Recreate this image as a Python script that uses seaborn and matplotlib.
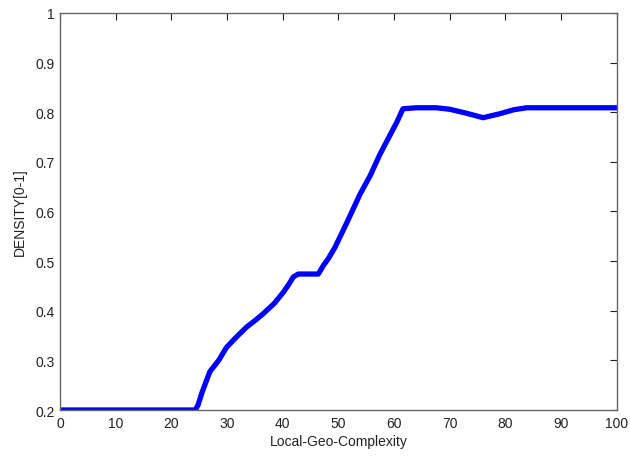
import numpy as np
import pandas as pd
import matplotlib
matplotlib.use('Agg')
import matplotlib.pyplot as plt
import seaborn as sns

# values
complexity = [0, 10, 20, 24.3, 24.8, 25.5, 26.9, 28.5, 29.9, 31.5, 33.5, 35.0, 36.5,
              38.5, 40.1, 41.2, 41.9, 42.8, 44.5, 46.4, 47.3, 48.2, 49.4, 51.5,
              53.9, 55.7, 57.5, 59.0, 60.5, 61.6, 64.0, 67.6, 70.0, 73.0, 76.0,
              79.0, 81.5, 83.8, 90.0, 100]
density = [0.2, 0.2, 0.2, 0.2, 0.21, 0.235, 0.277, 0.300, 0.326, 0.345, 0.367,
           0.380, 0.394, 0.415, 0.437, 0.455, 0.468, 0.474, 0.474, 0.474, 0.491,
           0.505, 0.528, 0.577, 0.635, 0.672, 0.716, 0.748, 0.780, 0.807, 0.809,
           0.809, 0.806, 0.798, 0.789, 0.797, 0.805, 0.809, 0.809, 0.809]

df = pd.DataFrame({'Local-Geo-Complexity': complexity, 'DENSITY[0-1]': density})

sns.set_style('white')
plt.rcParams['font.family'] = ['Liberation Sans', 'DejaVu Sans']

fig = plt.figure(figsize=(6.3, 4.6), dpi=100)
ax = fig.add_axes([0.0952, 0.1065, 0.8838, 0.8631])

sns.lineplot(data=df, x='Local-Geo-Complexity', y='DENSITY[0-1]', ax=ax,
             color='#0000ff', linewidth=3.8, solid_joinstyle='round')

ax.set_xlim(0, 100)
ax.set_ylim(0.2, 1)
ax.set_xticks(np.arange(0, 101, 10))
ax.set_yticks([0.2, 0.3, 0.4, 0.5, 0.6, 0.7, 0.8, 0.9, 1])
ax.set_yticklabels(['0.2', '0.3', '0.4', '0.5', '0.6', '0.7', '0.8', '0.9', '1'])
ax.tick_params(direction='in', length=5, width=0.8, top=True, right=True,
               labelsize=10, colors='#222222', pad=4)
for s in ax.spines.values():
    s.set_color('#666666')
    s.set_linewidth(1.0)
ax.set_xlabel('Local-Geo-Complexity', fontsize=10, color='#222222', labelpad=3)
ax.set_ylabel('DENSITY[0-1]', fontsize=10, color='#222222', labelpad=6)

fig.savefig('out.png', dpi=100, facecolor='white')
